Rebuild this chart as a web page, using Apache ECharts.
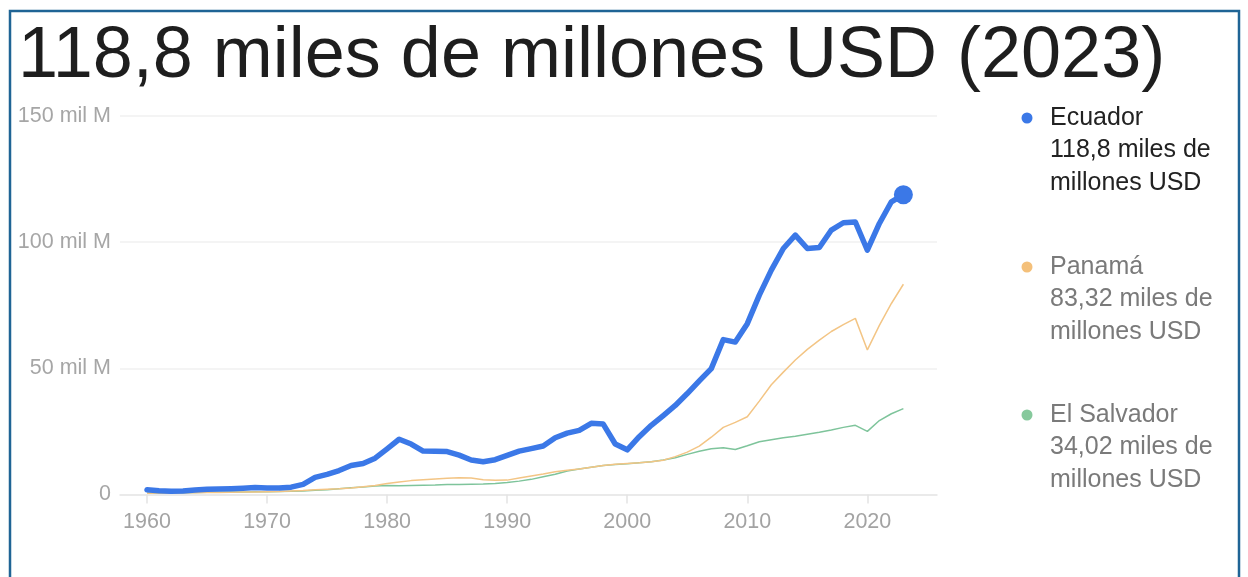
<!DOCTYPE html>
<html>
<head>
<meta charset="utf-8">
<script src="https://cdn.jsdelivr.net/npm/echarts@6/dist/echarts.min.js"></script>
<style>
html,body{margin:0;padding:0;background:#fff;}
#c{width:1248px;height:577px;}
</style>
</head>
<body>
<div id="c"></div>
<script>
const years = [1960,1961,1962,1963,1964,1965,1966,1967,1968,1969,
  1970,1971,1972,1973,1974,1975,1976,1977,1978,1979,
  1980,1981,1982,1983,1984,1985,1986,1987,1988,1989,
  1990,1991,1992,1993,1994,1995,1996,1997,1998,1999,
  2000,2001,2002,2003,2004,2005,2006,2007,2008,2009,
  2010,2011,2012,2013,2014,2015,2016,2017,2018,2019,
  2020,2021,2022,2023];

const ecuador = [1.9,1.5,1.3,1.4,1.8,2.1,2.2,2.3,2.5,2.8,
  2.6,2.6,2.9,4.0,6.8,8.0,9.5,11.5,12.3,14.4,
  18.1,21.9,20.0,17.2,17.1,17.0,15.6,13.7,13.0,13.8,
  15.5,17.2,18.2,19.2,22.5,24.3,25.4,28.2,27.9,20.0,
  17.7,22.9,27.4,31.3,35.3,40.0,45.0,49.9,61.4,60.4,
  67.7,79.0,88.9,97.5,102.8,97.5,97.9,104.8,107.7,108.0,
  96.8,107.4,116.0,118.8];

const panama = [0.5,0.55,0.6,0.65,0.7,0.75,0.8,0.9,0.95,1.0,
  1.1,1.2,1.4,1.6,1.9,2.1,2.3,2.6,3.1,3.6,
  4.4,5.0,5.5,5.8,6.1,6.4,6.6,6.5,5.8,5.6,
  5.7,6.5,7.3,8.1,9.0,9.6,10.1,10.8,11.5,12.0,
  12.3,12.6,13.0,13.6,15.0,16.8,19.2,22.7,26.6,28.6,
  30.8,37.0,43.5,48.5,53.3,57.5,61.2,64.6,67.3,69.8,
  57.3,67.0,75.7,83.32];

const elSalvador = [0.6,0.6,0.65,0.7,0.8,0.85,0.9,0.95,1.0,1.05,
  1.1,1.15,1.25,1.4,1.65,1.9,2.3,2.7,3.0,3.4,
  3.6,3.5,3.6,3.7,3.8,4.0,4.0,4.1,4.2,4.4,
  4.8,5.3,6.0,7.0,8.0,9.3,10.1,10.8,11.5,11.9,
  12.2,12.6,13.0,13.7,14.6,15.9,17.1,18.1,18.5,17.8,
  19.3,20.9,21.7,22.5,23.1,23.9,24.7,25.6,26.6,27.4,
  25.0,29.3,32.0,34.02];

const xTickYears = [1960,1970,1980,1990,2000,2010,2020];
const titleText = '118,8 miles de millones USD (2023)';
const legendItems = [
  {name:'Ecuador', value:'118,8 miles de', unit:'millones USD'},
  {name:'Panamá', value:'83,32 miles de', unit:'millones USD'},
  {name:'El Salvador', value:'34,02 miles de', unit:'millones USD'}
];

const colors = ['#3b78e7','#f3c585','#7ec49b'];
const dotColors = ['#3b78e7','#f4c07a','#86c99c'];
const FONT = '"Liberation Sans", Arial, Helvetica, sans-serif';

const chart = echarts.init(document.getElementById('c'), null, {renderer:'canvas'});

const pairs = arr => years.map((y,i)=>[y, arr[i]]);
const last = years.length - 1;

const legendGraphics = [];
const legendTop = [118, 267, 415];
legendItems.forEach((it, i) => {
  const y0 = legendTop[i];
  const textColor = i === 0 ? '#222' : '#7a7a7a';
  legendGraphics.push({
    type:'circle', shape:{cx:1027, cy:y0, r:5.5},
    style:{fill:dotColors[i]}, silent:true
  });
  [it.name, it.value, it.unit].forEach((t, k) => {
    legendGraphics.push({
      type:'text', x:1050, y:y0 + k*32.5,
      style:{text:t, fill:textColor, font:'25px ' + FONT,
             textAlign:'left', textVerticalAlign:'middle'},
      silent:true
    });
  });
});

const option = {
  animation:false,
  backgroundColor:'#fff',
  grid:{left:120, right:311, top:116, bottom:82.5, containLabel:false},
  xAxis:{
    type:'value', min:1957.75, max:2025.8,
    axisLine:{show:true, lineStyle:{color:'#e6e6e6', width:1.5}},
    axisTick:{show:true, customValues:xTickYears, length:9, lineStyle:{color:'#e3e3e3', width:1.5}},
    axisLabel:{show:true, customValues:xTickYears, color:'#a3a3a3', fontSize:21.5, fontFamily:FONT, margin:17,
      formatter:v=>String(v)},
    splitLine:{show:false}
  },
  yAxis:{
    type:'value', min:0, max:150, interval:50,
    axisLine:{show:false}, axisTick:{show:false},
    axisLabel:{color:'#a6a6a6', fontSize:21.5, fontFamily:FONT, margin:9,
      formatter:v=> v === 0 ? '0' : v + ' mil M'},
    splitLine:{show:true, lineStyle:{color:'#f0f0f0', width:1.5}}
  },
  series:[
    {type:'line', name:'El Salvador', data:pairs(elSalvador), symbol:'none',
     lineStyle:{color:colors[2], width:1.5}, z:2},
    {type:'line', name:'Panamá', data:pairs(panama), symbol:'none',
     lineStyle:{color:colors[1], width:1.5}, z:3},
    {type:'line', name:'Ecuador', data:pairs(ecuador), symbol:'none',
     lineStyle:{color:colors[0], width:5.5, join:'round', cap:'round'}, z:4},
    {type:'scatter', name:'Ecuador', data:[[years[last], ecuador[last]]],
     symbol:'circle', symbolSize:19, itemStyle:{color:colors[0], opacity:1}, z:5}
  ],
  graphic:[
    {type:'rect', shape:{x:10, y:11, width:1229, height:580},
     style:{fill:'none', stroke:'#1f6495', lineWidth:2.5}, silent:true},
    {type:'text', x:18, y:57,
     style:{text:titleText, fill:'#1e1e1e', font:'72px ' + FONT,
            textAlign:'left', textVerticalAlign:'middle'}, silent:true}
  ].concat(legendGraphics)
};
chart.setOption(option);
</script>
</body>
</html>
